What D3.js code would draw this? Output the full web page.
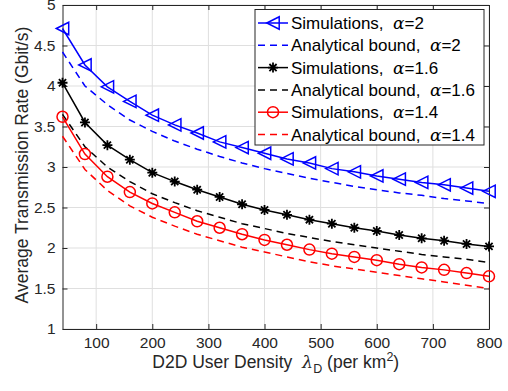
<!DOCTYPE html>
<html>
<head>
<meta charset="utf-8">
<script src="https://cdn.jsdelivr.net/npm/d3@7"></script>
<style>
  html, body { margin: 0; padding: 0; background: #fff; }
  svg { display: block; font-family: "Liberation Sans", Arial, Helvetica, sans-serif; }
</style>
</head>
<body>
<svg id="chart" width="508" height="391"></svg>
<script>
// D2D user density (per km^2)
const lambdaD = [40, 80, 120, 160, 200, 240, 280, 320, 360, 400,
                 440, 480, 520, 560, 600, 640, 680, 720, 760, 800];

// Average transmission rate (Gbit/s)
const simAlpha20 = [4.71, 4.26, 3.99, 3.81, 3.64, 3.52, 3.42, 3.31, 3.24, 3.17,
                    3.10, 3.05, 2.98, 2.94, 2.89, 2.85, 2.81, 2.78, 2.74, 2.70];
const boundAlpha20 = [4.42, 4.00, 3.77, 3.58, 3.44, 3.32, 3.22, 3.13, 3.05, 2.98,
                      2.92, 2.86, 2.81, 2.76, 2.72, 2.68, 2.65, 2.61, 2.58, 2.55];
const simAlpha16 = [4.04, 3.55, 3.27, 3.09, 2.93, 2.82, 2.72, 2.63, 2.54, 2.47,
                    2.41, 2.35, 2.30, 2.25, 2.21, 2.16, 2.12, 2.09, 2.05, 2.02];
const boundAlpha16 = [3.65, 3.25, 3.00, 2.82, 2.67, 2.56, 2.46, 2.38, 2.30, 2.24,
                      2.18, 2.13, 2.08, 2.04, 2.00, 1.96, 1.92, 1.89, 1.86, 1.82];
const simAlpha14 = [3.62, 3.16, 2.88, 2.69, 2.55, 2.44, 2.33, 2.25, 2.17, 2.10,
                    2.04, 1.98, 1.93, 1.89, 1.85, 1.80, 1.76, 1.73, 1.69, 1.65];
const boundAlpha14 = [3.38, 2.97, 2.71, 2.52, 2.38, 2.27, 2.17, 2.09, 2.01, 1.95,
                      1.89, 1.83, 1.78, 1.74, 1.70, 1.66, 1.62, 1.58, 1.54, 1.50];

const xTicks = [100, 200, 300, 400, 500, 600, 700, 800];
const yTicks = [1, 1.5, 2, 2.5, 3, 3.5, 4, 4.5, 5];
const yTickLabels = ["1", "1.5", "2", "2.5", "3", "3.5", "4", "4.5", "5"];

const series = [
  { label: "Simulations,\u00a0 ", alpha: "2",   values: simAlpha20,   color: "#0000ff", dashed: false, marker: "triangle" },
  { label: "Analytical bound,\u00a0 ", alpha: "2",   values: boundAlpha20, color: "#0000ff", dashed: true,  marker: null },
  { label: "Simulations,\u00a0 ", alpha: "1.6", values: simAlpha16,   color: "#000000", dashed: false, marker: "star" },
  { label: "Analytical bound,\u00a0 ", alpha: "1.6", values: boundAlpha16, color: "#000000", dashed: true,  marker: null },
  { label: "Simulations,\u00a0 ", alpha: "1.4", values: simAlpha14,   color: "#ff0000", dashed: false, marker: "circle" },
  { label: "Analytical bound,\u00a0 ", alpha: "1.4", values: boundAlpha14, color: "#ff0000", dashed: true,  marker: null }
];

const svg = d3.select("#chart");
const axisColor = "#262626";
const gridColor = "#dfdfdf";

const plot = { left: 62.5, right: 489, top: 5, bottom: 329 };
const x = d3.scaleLinear().domain([40, 800]).range([plot.left, plot.right]);
const y = d3.scaleLinear().domain([1, 5]).range([plot.bottom, plot.top]);

// grid
const grid = svg.append("g");
grid.selectAll("line.gx").data(xTicks).join("line")
  .attr("x1", d => x(d)).attr("x2", d => x(d))
  .attr("y1", plot.top).attr("y2", plot.bottom)
  .attr("stroke", gridColor).attr("stroke-width", 1);
grid.selectAll("line.gy").data(yTicks).join("line")
  .attr("x1", plot.left).attr("x2", plot.right)
  .attr("y1", d => y(d)).attr("y2", d => y(d))
  .attr("stroke", gridColor).attr("stroke-width", 1);

// axes (ticks pointing inward, box on all sides)
const tickLen = 5;
const tickFont = 15.5;
const titleFont = 17.5;
const legendFont = 17;
const xAxisB = d3.axisBottom(x).tickValues(xTicks).tickSizeInner(-tickLen).tickSizeOuter(0).tickPadding(8);
const xAxisT = d3.axisTop(x).tickValues(xTicks).tickSizeInner(-tickLen).tickSizeOuter(0).tickFormat("");
const yAxisL = d3.axisLeft(y).tickValues(yTicks).tickSizeInner(-tickLen).tickSizeOuter(0).tickPadding(7)
  .tickFormat((d, i) => yTickLabels[i]);
const yAxisR = d3.axisRight(y).tickValues(yTicks).tickSizeInner(-tickLen).tickSizeOuter(0).tickFormat("");

function styleAxis(g) {
  g.select(".domain").attr("stroke", axisColor).attr("stroke-width", 1);
  g.selectAll(".tick line").attr("stroke", axisColor).attr("stroke-width", 1);
  g.selectAll(".tick text").attr("fill", axisColor)
    .attr("font-size", tickFont).attr("font-family", "Liberation Sans, Arial, sans-serif");
}
svg.append("g").attr("transform", `translate(0,${plot.bottom})`).call(xAxisB).call(styleAxis);
svg.append("g").attr("transform", `translate(0,${plot.top})`).call(xAxisT).call(styleAxis);
svg.append("g").attr("transform", `translate(${plot.left},0)`).call(yAxisL).call(styleAxis);
svg.append("g").attr("transform", `translate(${plot.right},0)`).call(yAxisR).call(styleAxis);

// series lines
const line = d3.line().x((d, i) => x(lambdaD[i])).y(d => y(d));
const lines = svg.append("g");
series.forEach(s => {
  lines.append("path")
    .datum(s.values)
    .attr("d", line)
    .attr("fill", "none")
    .attr("stroke", s.color)
    .attr("stroke-width", 1.5)
    .attr("stroke-dasharray", s.dashed ? "7,5" : null);
});

// marker shapes
function drawMarker(g, type, cx, cy, color) {
  if (type === "triangle") {
    const r = 6.2;
    g.append("path")
      .attr("d", `M${cx - r},${cy} L${cx + r},${cy - r} L${cx + r},${cy + r} Z`)
      .attr("fill", "none").attr("stroke", color).attr("stroke-width", 1.5);
  } else if (type === "circle") {
    g.append("circle").attr("cx", cx).attr("cy", cy).attr("r", 5.5)
      .attr("fill", "none").attr("stroke", color).attr("stroke-width", 1.5);
  } else if (type === "star") {
    const r = 5, d = r * 0.72;
    g.append("path")
      .attr("d", `M${cx - r},${cy} L${cx + r},${cy} M${cx},${cy - r} L${cx},${cy + r} ` +
                 `M${cx - d},${cy - d} L${cx + d},${cy + d} M${cx - d},${cy + d} L${cx + d},${cy - d}`)
      .attr("fill", "none").attr("stroke", color).attr("stroke-width", 1.8);
  }
}

const marks = svg.append("g");
series.filter(s => s.marker).forEach(s => {
  s.values.forEach((v, i) => drawMarker(marks, s.marker, x(lambdaD[i]), y(v), s.color));
});

// axis titles
const xTitle = svg.append("text")
  .attr("x", (plot.left + plot.right) / 2).attr("y", 368)
  .attr("text-anchor", "middle").attr("fill", axisColor).attr("font-size", titleFont);
xTitle.append("tspan").text("D2D User Density\u00a0 ");
xTitle.append("tspan").attr("font-family", "DejaVu Serif, serif").attr("font-style", "italic").text("λ");
xTitle.append("tspan").attr("font-size", 12.5).attr("dy", 5).text("D");
xTitle.append("tspan").attr("dy", -5).text(" (per km");
xTitle.append("tspan").attr("font-size", 12.5).attr("dy", -7).text("2");
xTitle.append("tspan").attr("dy", 7).text(")");

svg.append("text")
  .attr("transform", `translate(28,165) rotate(-90)`)
  .attr("text-anchor", "middle").attr("fill", axisColor).attr("font-size", titleFont)
  .text("Average Transmission Rate (Gbit/s)");

// legend
const legend = { left: 255, top: 9.5, width: 229, rowH: 22.3, firstRow: 23 };
const lg = svg.append("g");
lg.append("rect")
  .attr("x", legend.left).attr("y", legend.top)
  .attr("width", legend.width).attr("height", 135.5)
  .attr("fill", "#fff").attr("stroke", axisColor).attr("stroke-width", 1);
series.forEach((s, i) => {
  const cy = legend.firstRow + i * legend.rowH;
  lg.append("line")
    .attr("x1", legend.left + 3).attr("x2", legend.left + 33)
    .attr("y1", cy).attr("y2", cy)
    .attr("stroke", s.color).attr("stroke-width", 1.5)
    .attr("stroke-dasharray", s.dashed ? "7,5" : null);
  if (s.marker) drawMarker(lg, s.marker, legend.left + 18, cy, s.color);
  const t = lg.append("text")
    .attr("x", legend.left + 36).attr("y", cy + 6)
    .attr("fill", "#000").attr("font-size", legendFont);
  t.append("tspan").text(s.label);
  t.append("tspan").attr("font-family", "DejaVu Serif, serif").attr("font-style", "italic").text("α");
  t.append("tspan").text("=" + s.alpha);
});
</script>
</body>
</html>
